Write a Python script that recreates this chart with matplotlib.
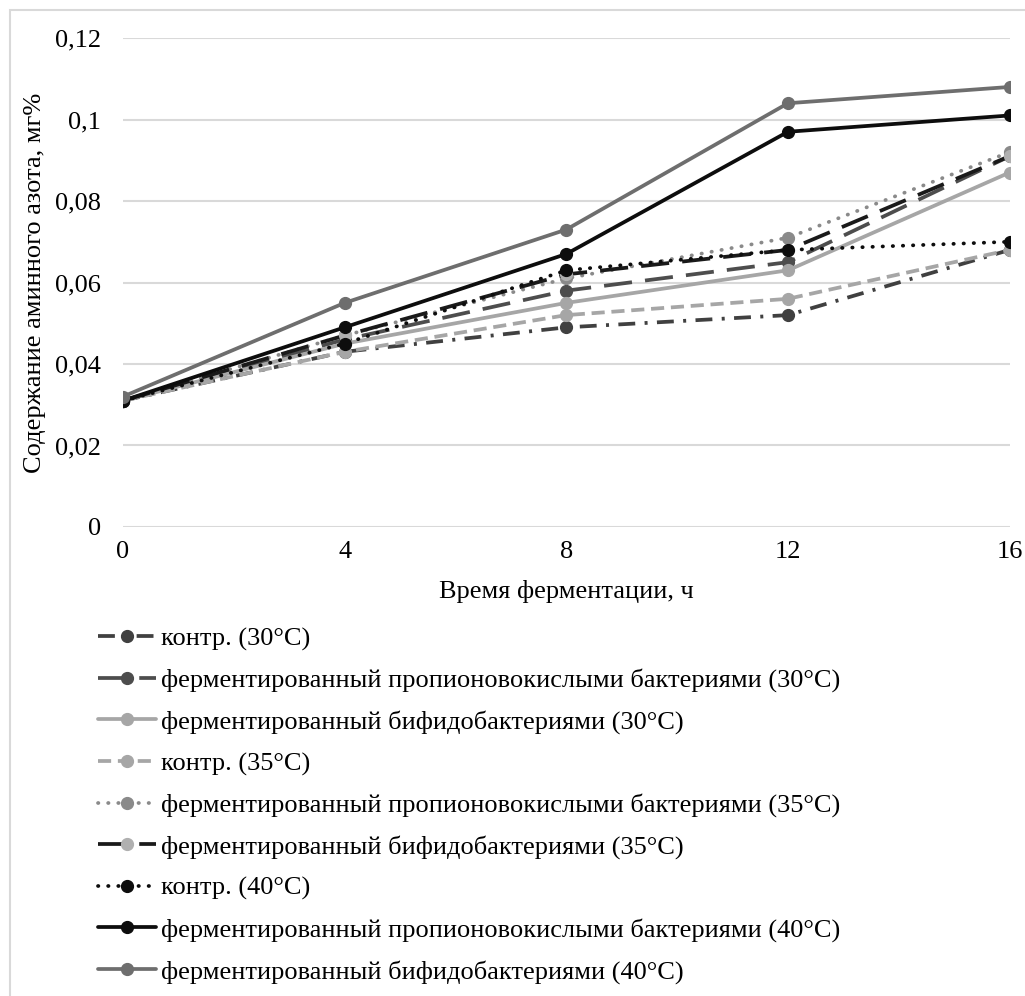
import matplotlib.pyplot as plt
from matplotlib.patches import Rectangle

plt.rcParams['font.family'] = ['Liberation Serif', 'DejaVu Serif']

hours = [0, 4, 8, 12, 16]

control_30 = [0.031, 0.043, 0.049, 0.052, 0.068]
propion_30 = [0.031, 0.046, 0.058, 0.065, 0.091]
bifido_30 = [0.031, 0.045, 0.055, 0.063, 0.087]
control_35 = [0.031, 0.043, 0.052, 0.056, 0.068]
propion_35 = [0.031, 0.047, 0.061, 0.071, 0.092]
bifido_35 = [0.031, 0.047, 0.062, 0.068, 0.091]
control_40 = [0.031, 0.045, 0.063, 0.068, 0.070]
propion_40 = [0.031, 0.049, 0.067, 0.097, 0.101]
bifido_40 = [0.032, 0.055, 0.073, 0.104, 0.108]

labels = [
    'контр. (30°C)',
    'ферментированный пропионовокислыми бактериями (30°C)',
    'ферментированный бифидобактериями (30°C)',
    'контр. (35°C)',
    'ферментированный пропионовокислыми бактериями (35°C)',
    'ферментированный бифидобактериями (35°C)',
    'контр. (40°C)',
    'ферментированный пропионовокислыми бактериями (40°C)',
    'ферментированный бифидобактериями (40°C)',
]
y_ticks = [0, 0.02, 0.04, 0.06, 0.08, 0.1, 0.12]
y_tick_labels = ['0', '0,02', '0,04', '0,06', '0,08', '0,1', '0,12']

# style per series: line colour, marker colour, dash pattern (None = solid)
series = [
    (control_30, '#404040', '#404040', (4.5, 2.5, 0.8, 2.5)),
    (propion_30, '#4d4d4d', '#4d4d4d', (7.5, 3.5)),
    (bifido_30, '#a6a6a6', '#a6a6a6', None),
    (control_35, '#a6a6a6', '#a6a6a6', (3.5, 1.8)),
    (propion_35, '#8a8a8a', '#8a8a8a', (0.1, 2.6)),
    (bifido_35, '#1a1a1a', '#b0b0b0', (7.5, 3.5)),
    (control_40, '#0d0d0d', '#0d0d0d', (0.1, 2.6)),
    (propion_40, '#0d0d0d', '#0d0d0d', None),
    (bifido_40, '#6e6e6e', '#6e6e6e', None),
]

FS = 19

fig = plt.figure(figsize=(10.25, 9.96), dpi=100)
ax = fig.add_axes([0.12, 0.4709, 0.865, 0.4909])

for (vals, col, mcol, dash), lab in zip(series, labels):
    line, = ax.plot(hours, vals, color=col, lw=2.7, marker='o', ms=8.5,
                    mfc=mcol, mec=mcol, label=lab, solid_capstyle='round')
    if dash is not None:
        line.set_dashes(dash)
        if dash[0] < 0.5:
            line.set_dash_capstyle('round')

ax.set_xlim(0, 16)
ax.set_ylim(0, 0.12)
ax.set_xticks(hours)
ax.set_xticklabels([str(h) for h in hours], fontsize=FS)
ax.set_yticks(y_ticks)
ax.set_yticklabels(y_tick_labels, fontsize=FS)
ax.tick_params(length=0)
ax.tick_params(axis='x', pad=10)
ax.tick_params(axis='y', pad=16)
ax.grid(axis='y', color='#d9d9d9', lw=1.5)
ax.set_axisbelow(True)
for s in ax.spines.values():
    s.set_visible(False)

ax.set_xlabel('Время ферментации, ч', fontsize=FS, labelpad=12)
ax.set_ylabel('Содержание аминного азота, мг%', fontsize=FS, labelpad=6)

ax.legend(loc='upper left', bbox_to_anchor=(98 / 1025, 1 - 627 / 996),
          bbox_transform=fig.transFigure, frameon=False, fontsize=FS,
          handlelength=2.2, handletextpad=0.2, labelspacing=0.67,
          borderaxespad=0, borderpad=0)

# light chart-area border
fig.patches.append(Rectangle((10 / 1025, -0.01), 1.1, 1 - 10 / 996 + 0.01,
                             transform=fig.transFigure, fill=False,
                             ec='#d9d9d9', lw=1.5))

fig.savefig('out.png', dpi=100)
